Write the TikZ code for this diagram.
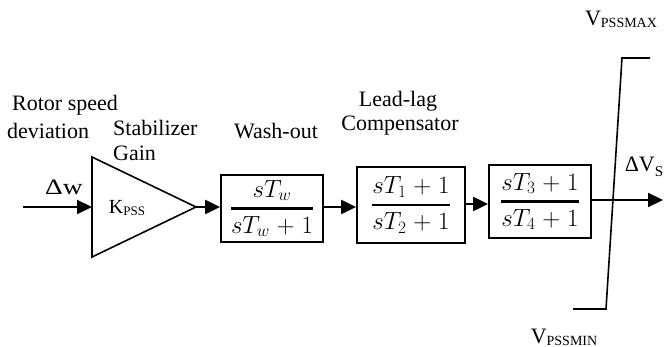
\documentclass[tikz,border=0pt]{standalone}
\usepackage{fontspec}
\usepackage{graphicx}
\setmainfont{Liberation Serif}
\usetikzlibrary{arrows.meta}
\begin{document}
\begin{tikzpicture}[x=1pt,y=-1pt,
  lbl/.style={font=\rmfamily\fontsize{22}{26}\selectfont, inner sep=0pt, align=left},
  tf/.style={draw, line width=1.8pt, inner sep=0pt, font=\fontsize{25}{30}\selectfont},
  sig/.style={line width=2.2pt, -{Triangle[length=15pt,width=14pt]}},
  lim/.style={line width=1.6pt}]
\useasboundingbox (0,0) rectangle (665,347);
\medmuskip=5mu
% input
\coordinate (in) at (23,207);
\node[lbl] (dw) at (64,187) {\scalebox{1.25}[1]{Δw}};
\node[lbl, anchor=west] (rs) at (12,105) {Rotor speed};
\node[lbl, anchor=west] (dev) at (7,131) {deviation};
% gain triangle
\coordinate (t1) at (92,157);
\coordinate (t2) at (92,257);
\coordinate (tip) at (196,207);
\draw[line width=1.6pt] (t1) -- (tip) -- (t2) -- cycle;
\node[lbl, font=\rmfamily\fontsize{20}{22}\selectfont] (k) at (127,208) {K\raisebox{-0.12em}{\fontsize{13}{14}\selectfont PSS}};
\node[lbl, anchor=west] (sg) at (113,128) {Stabilizer};
\node[lbl, anchor=west] (gn) at (113,153) {Gain};
% blocks
\node[tf, minimum width=102pt, minimum height=67pt] (b1) at (272,208.5) {$\displaystyle {sT_w \above 2.2pt sT_w+1}$};
\node[tf, minimum width=108pt, minimum height=76pt] (b2) at (411,205) {$\displaystyle {sT_1+1 \above 2.2pt sT_2+1}$};
\node[tf, minimum width=102pt, minimum height=73pt] (b3) at (540,201.5) {$\displaystyle {sT_3+1 \above 2.2pt sT_4+1}$};
\node[lbl] (wo) at (276,131) {Wash-out};
\node[lbl] (ll) at (398,101) {Lead-lag};
\node[lbl] (cp) at (400,126) {Compensator};
% connectors
\draw[sig] (in) -- (t1 |- in);
\draw[sig] (tip) -- (b1.west |- tip);
\draw[sig] (b1.east |- 0,207) -- (b2.west |- 0,207);
\draw[sig] (b2.east |- 0,204) -- (b3.west |- 0,204);
\coordinate (out) at (663,200);
\draw[sig] (b3.east |- out) -- (out);
% limiter
\coordinate (l1) at (650,58);
\coordinate (l2) at (622,58);
\coordinate (l3) at (606,309);
\coordinate (l4) at (573,309);
\draw[lim] (l1) -- (l2) -- (l3) -- (l4);
\node[lbl] (vmax) at (621,19) {V\raisebox{-0.1em}{\fontsize{14}{15}\selectfont PSSMAX}};
\node[lbl] (vmin) at (564,337) {V\raisebox{-0.1em}{\fontsize{14}{15}\selectfont PSSMIN}};
\node[lbl] (dvs) at (644,167) {ΔV\raisebox{-0.2em}{\fontsize{15}{16}\selectfont S}};
\end{tikzpicture}
\end{document}
